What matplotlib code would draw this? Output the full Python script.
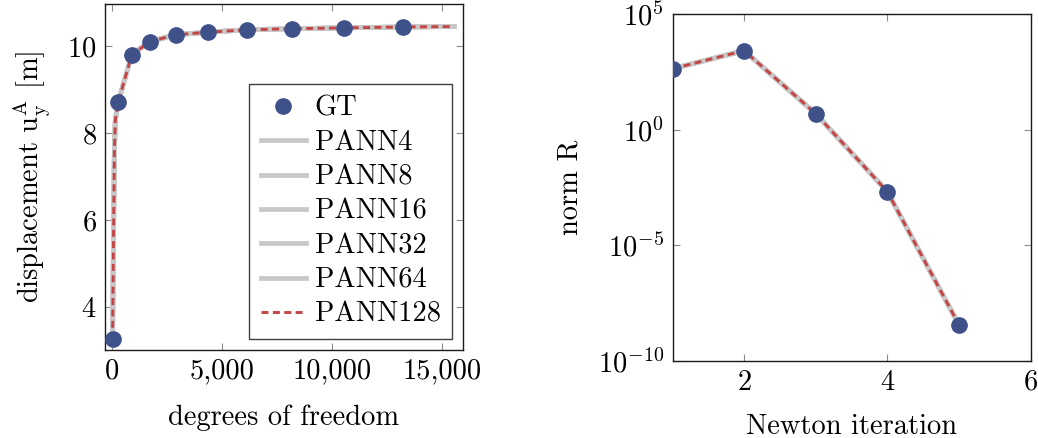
import matplotlib
matplotlib.use("Agg")
import matplotlib.pyplot as plt
import numpy as np
from matplotlib.ticker import FuncFormatter, FixedLocator, NullLocator

plt.rcParams['font.family'] = 'serif'
plt.rcParams['font.serif'] = ['cmr10']
plt.rcParams['mathtext.fontset'] = 'cm'
plt.rcParams['axes.unicode_minus'] = False
plt.rcParams['axes.formatter.use_mathtext'] = True

# left panel: convergence over mesh size
gt_dof = [24, 288, 895, 1727, 2895, 4350, 6122, 8197, 10560, 13242]
gt_disp = [3.25, 8.73, 9.81, 10.115, 10.27, 10.33, 10.385, 10.41, 10.43, 10.45]

pann_dof = [24, 60, 105, 150, 288, 895, 1727, 2895, 4350, 6122, 8197, 10560, 13242, 15545]
pann_disp = [3.25, 5.24, 7.55, 8.31, 8.73, 9.81, 10.115, 10.27, 10.33, 10.385, 10.41, 10.43, 10.45, 10.46]
pann_names = ['PANN4', 'PANN8', 'PANN16', 'PANN32', 'PANN64', 'PANN128']

# right panel: Newton residuals
newton_it = [1, 2, 3, 4, 5]
norm_r = [431, 2600, 4.9, 2.1e-3, 3.7e-9]

blue = '#3f5189'
gray = '#c8c8c8'
red = '#c44545'
fs = 20.5

fig = plt.figure(figsize=(10.38, 4.38), dpi=100)
ax1 = fig.add_axes([105/1038, 88/438, 358/1038, 346/438])
ax2 = fig.add_axes([672.5/1038, 77/438, 358/1038, 347/438])

for name in pann_names:
    if name == 'PANN128':
        ax1.plot(pann_dof, pann_disp, color=red, lw=2.1, dashes=[2.4, 1.5], label=name, zorder=3)
    else:
        ax1.plot(pann_dof, pann_disp, color=gray, lw=3.4, label=name, zorder=2)
ax1.plot(gt_dof, gt_disp, 'o', color=blue, ms=11, label='GT', zorder=4)

ax1.set_xlim(-320, 15950)
ax1.set_ylim(3.0, 10.98)
ax1.xaxis.set_major_locator(FixedLocator([0, 5000, 10000, 15000]))
ax1.yaxis.set_major_locator(FixedLocator([4, 6, 8, 10]))
ax1.xaxis.set_major_formatter(FuncFormatter(lambda v, p: f'{v:,.0f}'))
ax1.set_xlabel('degrees of freedom', fontsize=fs, labelpad=14)
ax1.set_ylabel(r'displacement $\mathrm{u_y^A}$ [m]', fontsize=fs, labelpad=10)

handles, labels = ax1.get_legend_handles_labels()
order = [6, 0, 1, 2, 3, 4, 5]
leg = ax1.legend([handles[i] for i in order], [labels[i] for i in order],
                 loc='lower right', fontsize=fs, fancybox=False, framealpha=1,
                 edgecolor='0.25', borderaxespad=0.38, handlelength=1.6,
                 handletextpad=0.3, labelspacing=0.28, borderpad=0.4)
leg.get_frame().set_linewidth(1.0)

for name in pann_names:
    if name == 'PANN128':
        ax2.plot(newton_it, norm_r, color=red, lw=2.1, dashes=[2.4, 1.5], zorder=3)
    else:
        ax2.plot(newton_it, norm_r, color=gray, lw=3.4, zorder=2)
ax2.plot(newton_it, norm_r, 'o', color=blue, ms=11, zorder=4)
ax2.set_yscale('log')
ax2.set_xlim(1, 6)
ax2.set_ylim(1e-10, 1e5)
ax2.xaxis.set_major_locator(FixedLocator([2, 4, 6]))
ax2.yaxis.set_major_locator(FixedLocator([1e-10, 1e-5, 1e0, 1e5]))
ax2.yaxis.set_minor_locator(NullLocator())
ax2.yaxis.set_major_formatter(FuncFormatter(lambda v, p: r'$10^{%d}$' % round(np.log10(v))))
ax2.set_xlabel('Newton iteration', fontsize=fs, labelpad=13)
ax2.set_ylabel('norm R', fontsize=fs, labelpad=10)

for ax in (ax1, ax2):
    ax.tick_params(direction='in', top=True, right=True, length=5, width=0.8,
                   color='0.55', labelsize=fs, pad=6)
    for s in ax.spines.values():
        s.set_linewidth(1.0)
        s.set_color('0.1')

fig.savefig('out.png', dpi=100)
